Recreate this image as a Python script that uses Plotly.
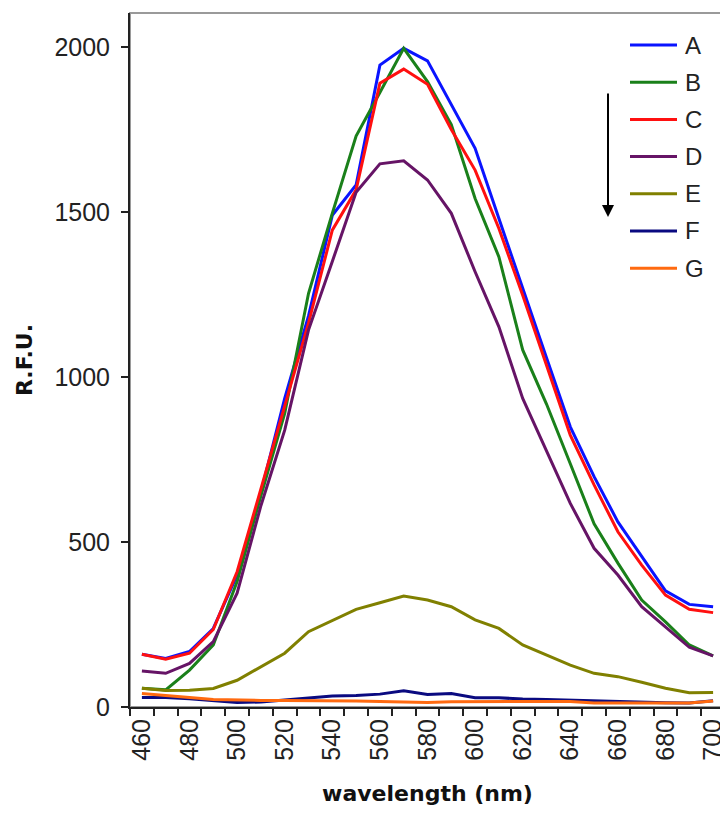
import plotly.graph_objects as go

# emission spectra
wavelength = [460, 470, 480, 490, 500, 510, 520, 530, 540, 550, 560, 570, 580,
              590, 600, 610, 620, 630, 640, 650, 660, 670, 680, 690, 700]

series_a = [160, 147, 168, 238, 400, 650, 935, 1185, 1490, 1582, 1945, 1996, 1958,
            1824, 1693, 1480, 1272, 1058, 849, 698, 561, 455, 352, 311, 304]
series_b = [57, 52, 112, 188, 380, 640, 890, 1253, 1496, 1730, 1862, 1996, 1895,
            1765, 1541, 1364, 1082, 918, 737, 555, 436, 324, 258, 188, 155]
series_c = [160, 145, 163, 235, 410, 660, 910, 1163, 1445, 1567, 1890, 1933, 1887,
            1750, 1627, 1450, 1248, 1036, 824, 673, 531, 430, 339, 296, 286]
series_d = [109, 102, 132, 198, 345, 610, 839, 1142, 1350, 1560, 1646, 1655, 1597,
            1496, 1319, 1152, 935, 774, 617, 481, 400, 304, 243, 181, 155]
series_e = [57, 50, 51, 56, 81, 122, 163, 228, 261, 296, 316, 336, 324,
            304, 264, 238, 188, 158, 127, 102, 92, 75, 57, 43, 44]
series_f = [29, 29, 25, 19, 14, 15, 21, 29, 33, 35, 39, 49, 38,
            41, 28, 28, 24, 23, 21, 19, 15, 13, 13, 12, 19]
series_g = [41, 36, 29, 23, 21, 20, 20, 20, 19, 18, 17, 15, 14,
            16, 17, 17, 17, 17, 17, 12, 12, 12, 12, 12, 18]

names = ["A", "B", "C", "D", "E", "F", "G"]
values = [series_a, series_b, series_c, series_d, series_e, series_f, series_g]
colors = ["#0a14ff", "#1a801a", "#ff1010", "#661466", "#808000", "#0a0a80", "#ff6a10"]

# page has an 8px body margin, so the figure itself is a bit smaller
OFF = 8
W, H = 728 - OFF, 814 - 2 * OFF
L, R, T, B = 130 - OFF, 3, 13 - OFF, H - (707 - OFF)
pw, ph = W - L - R, H - T - B

# helpers: page pixel -> paper coords (legend / arrow only)
def px_x(x):
    return (x - OFF - L) / pw

def px_y(y):
    return (H - B - (y - OFF)) / ph

tick_font = "Arial, Liberation Sans, sans-serif"
title_font = "DejaVu Sans, Verdana, sans-serif"

fig = go.Figure()
for name, ys, col in zip(names, values, colors):
    fig.add_trace(go.Scatter(
        x=wavelength, y=ys, mode="lines", name=name,
        line=dict(color=col, width=3), showlegend=False
    ))

# hand-drawn legend like the original
shapes = [dict(type="rect", xref="paper", yref="paper", x0=0, x1=1, y0=0, y1=1,
               line=dict(color="#9a9a9a", width=2), layer="below")]
annotations = []
for i, (name, col) in enumerate(zip(names, colors)):
    yy = px_y(45 + 37.2 * i)
    shapes.append(dict(type="line", xref="paper", yref="paper",
                       x0=px_x(630), x1=px_x(677), y0=yy, y1=yy,
                       line=dict(color=col, width=3)))
    annotations.append(dict(xref="paper", yref="paper", x=px_x(683), y=yy,
                            text=name, showarrow=False, xanchor="left",
                            yanchor="middle", font=dict(size=24, color="#222")))

annotations.append(dict(xref="paper", yref="paper", x=px_x(608), y=px_y(217),
                        ax=0, ay=-125, text="", showarrow=True, arrowhead=2,
                        arrowsize=1.2, arrowwidth=2, arrowcolor="#000"))

fig.update_layout(
    width=W, height=H,
    margin=dict(l=L, r=R, t=T, b=B, autoexpand=False),
    paper_bgcolor="white", plot_bgcolor="white",
    font=dict(family=tick_font, size=25, color="#222"),
    shapes=shapes, annotations=annotations,
    xaxis=dict(
        range=[455, 705], tickmode="linear", tick0=460, dtick=20,
        tickangle=-90, ticks="", showgrid=False, zeroline=False,
        showline=True, linecolor="#222", linewidth=2, automargin=False,
        minor=dict(ticks="outside", tick0=455, dtick=10, ticklen=7,
                   tickcolor="#222", tickwidth=2, showgrid=False),
        title=dict(text="<b>wavelength (nm)</b>", standoff=35,
                   font=dict(family=title_font, size=22, color="#111")),
    ),
    yaxis=dict(
        range=[0, 2103], tickmode="linear", tick0=0, dtick=500,
        ticks="outside", ticklen=7, tickcolor="#222", tickwidth=2,
        ticklabelstandoff=6, automargin=False,
        showgrid=False, zeroline=False,
        showline=True, linecolor="#222", linewidth=2,
        title=dict(text="<b>R.F.U.</b>", standoff=16,
                   font=dict(family=title_font, size=22, color="#111")),
    ),
)

fig.write_html("out.html")
